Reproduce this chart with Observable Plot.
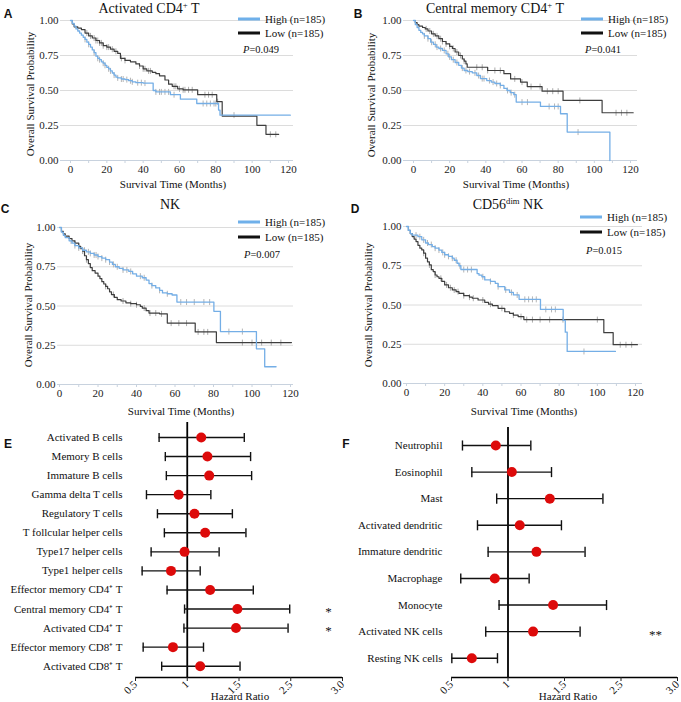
<!DOCTYPE html>
<html><head><meta charset="utf-8">
<script src="https://cdn.jsdelivr.net/npm/d3@7"></script>
<script src="https://cdn.jsdelivr.net/npm/@observablehq/plot@0.6"></script>
<style>
body{margin:0;background:#fff;}
#root{position:relative;width:681px;height:702px;overflow:hidden;background:#fff;font-family:"Liberation Serif","Times New Roman",serif;color:#111;}
.abs{position:absolute;white-space:nowrap;line-height:1;}
.c{transform:translate(-50%,-50%);}
.lv{transform:translate(0,-50%);}
.plot{position:absolute;}
.plot svg{overflow:visible;display:block;}
.letter{font-family:"Liberation Sans",Arial,sans-serif;font-weight:bold;font-size:12px;}
.title{font-size:14px;}
.axl{font-size:11px;}
.rot{transform:translate(-50%,-50%) rotate(-90deg);}
.leg{font-size:11px;display:flex;align-items:center;}
.leg .ln{display:inline-block;width:22px;height:3px;margin-right:5px;}
.pv{font-size:10.5px;}
sup{font-size:0.62em;vertical-align:0.55em;line-height:0;}
</style></head>
<body><div id="root"></div>
<script>
// ---------- Data: Kaplan-Meier step curves (months, survival) ----------
const aHighT = [0,1,2,3,4,5,6,7,8,9,10,11,12,13,14,15,16,17,18,19,20,21,22,23,24,25,26,28,30,32,34,36,40,45.5,47,55,60.5,69.5,81.5,82.3,121];
const aHighS = [1,0.98,0.96,0.94,0.925,0.91,0.895,0.88,0.865,0.845,0.83,0.81,0.79,0.77,0.745,0.73,0.72,0.705,0.695,0.68,0.665,0.655,0.64,0.625,0.61,0.595,0.59,0.582,0.578,0.57,0.562,0.556,0.553,0.50,0.49,0.47,0.438,0.407,0.36,0.324,0.324];
const aHighC = [8,10,13,15,16,18,19,21,22,24,26,28,29,31,33,34,37,39,41,47,49,50,52,54,57,73,75,77,79,80,90];
const aLowT = [0,1,2,4,6,8,10,12,14,16,18,20,22,24,26,27.5,30,33,36,38,40,42,45,47,49,52,54,56,59,62,70,80.5,83.5,102.6,107.6,114.6];
const aLowS = [1,0.975,0.955,0.945,0.935,0.91,0.89,0.875,0.857,0.84,0.82,0.81,0.795,0.78,0.765,0.73,0.715,0.705,0.69,0.675,0.655,0.64,0.63,0.62,0.605,0.575,0.545,0.53,0.512,0.505,0.47,0.42,0.317,0.251,0.187,0.187];
const aLowC = [9,11,13,14,15,16,17,18,20,21,23,25,28,30,38,40,41,43,44,57,58,60,62,63,65,67,74,76,78,81,110,113];

const bHighT = [0,1,2,3,4,5,6,8,9.5,11,12.5,14,16,18,19.5,21,23,25,26.5,28,30,32.5,35,37,40.5,43,45,48,50,51.7,53.5,55.5,56.8,70.2,81.3,85,108.6];
const bHighS = [1,0.97,0.95,0.93,0.915,0.905,0.89,0.87,0.845,0.83,0.81,0.8,0.786,0.762,0.74,0.72,0.70,0.68,0.66,0.643,0.635,0.626,0.607,0.585,0.571,0.56,0.55,0.536,0.515,0.5,0.485,0.47,0.417,0.386,0.334,0.203,0.0];
const bHighC = [6,8,10,12,13,15,17,19,20,22,24,27,29,31,34,36,38,39,42,44,46,48,52,54,56,60,63,75,78,80,91];
const bLowT = [0,1,2,3,5,6.5,8,10,12,14,16,18,20,21.5,23,25,27,28,29,29.7,41,50,53.7,59.2,62.9,71.1,82.7,104.3,121.5];
const bLowS = [1,0.985,0.97,0.96,0.95,0.94,0.925,0.905,0.89,0.87,0.85,0.833,0.815,0.8,0.775,0.75,0.725,0.71,0.69,0.666,0.643,0.62,0.583,0.56,0.528,0.495,0.429,0.341,0.341];
const bLowC = [7,9,11,13,15,16,18,20,22,24,26,28,35,38,41,45,48,56,60,65,70,74,77,80,92,112,115,118];

const cHighT = [0,1,2,3,5,6.5,8,10,12,14,16,18,20,22,24,26,27.5,29,31,33,36,38,40,43,45,46.5,48,50,52,53.5,56,58.5,61,80.2,83.6,102.3,106.6,112.5];
const cHighS = [1,0.97,0.95,0.935,0.915,0.9,0.885,0.87,0.855,0.845,0.835,0.825,0.815,0.805,0.795,0.78,0.765,0.75,0.74,0.73,0.72,0.705,0.69,0.68,0.665,0.643,0.63,0.615,0.6,0.583,0.578,0.57,0.525,0.466,0.337,0.227,0.113,0.113];
const cHighC = [6,8,10,12,13,15,16,18,19,20,22,24,26,28,30,33,35,37,42,44,48,52,56,63,66,70,75,78,88,95];
const cLowT = [0,1,2,3,5,6.5,8,10,11,12,13,14,15,16,17,18.5,20,21,22,23,24,25,26,27,28.5,30,32,34.5,37,40,42,43,45,46.5,52,56,70.5,81.5,120.5];
const cLowS = [1,0.975,0.96,0.945,0.93,0.915,0.9,0.88,0.865,0.85,0.82,0.795,0.77,0.745,0.725,0.71,0.69,0.675,0.655,0.64,0.625,0.61,0.59,0.573,0.555,0.54,0.532,0.52,0.515,0.508,0.497,0.487,0.47,0.455,0.45,0.391,0.335,0.267,0.267];
const cLowC = [8,10,12,14,24,28,33,37,40,44,47,50,53,58,62,66,72,75,77,95,100,105,110,115];

const dHighT = [0,1,2,3,6,8,10,11.5,13.5,15,17,18.5,20,22,24,25,26.5,27.5,28.5,37,38,39.5,41,44,46.5,48,51.5,54,56,59,70.2,82.1,83.2,84.2,109.5];
const dHighS = [1,0.975,0.955,0.945,0.935,0.915,0.895,0.885,0.872,0.862,0.85,0.835,0.82,0.81,0.798,0.785,0.766,0.75,0.726,0.70,0.69,0.68,0.66,0.65,0.638,0.617,0.596,0.58,0.564,0.536,0.472,0.402,0.327,0.204,0.204];
const dHighC = [5,7,9,11,13,15,17,19,20,22,24,26,28,30,32,34,40,44,48,52,55,58,62,64,66,68,73,76,78,93];
const dLowT = [0,1,2,3,4,5,6,7,8,9,10,11,12,13,14,15,16,17,18.5,20,22,24,26,27.5,30,33,34.5,37.5,41,43,45,48,51.5,54,56,58.5,61.5,103.4,108.3,121];
const dLowS = [1,0.975,0.955,0.936,0.92,0.904,0.88,0.862,0.851,0.83,0.798,0.775,0.755,0.725,0.713,0.691,0.68,0.67,0.65,0.628,0.61,0.596,0.585,0.574,0.56,0.55,0.543,0.532,0.517,0.505,0.496,0.479,0.457,0.447,0.436,0.426,0.407,0.324,0.247,0.247];
const dLowC = [9,12,15,18,21,23,25,27,30,33,35,40,44,50,56,60,63,66,70,75,82,100,112,115,118];

const kmXTicks = [0,10,20,30,40,50,60,70,80,90,100,110,120];
const kmXLabels = [0,20,40,60,80,100,120];
const kmYTicks = [0,0.25,0.5,0.75,1];

// ---------- Data: forest plots ----------
const eNames = ["Activated B cells","Memory B cells","Immature B cells","Gamma delta T cells","Regulatory T cells","T follcular helper cells","Type17 helper cells","Type1 helper cells","Effector memory CD4\u207A T","Central memory CD4\u207A T","Activated CD4\u207A T","Effector memory CD8\u207A T","Activated CD8\u207A T"];
const eHR = [1.135,1.195,1.212,0.917,1.07,1.173,0.974,0.843,1.221,1.484,1.471,0.862,1.125];
const eLo = [0.728,0.788,0.798,0.606,0.712,0.779,0.651,0.564,0.805,0.974,0.968,0.574,0.753];
const eHi = [1.551,1.612,1.622,1.228,1.436,1.567,1.308,1.125,1.638,1.99,1.974,1.157,1.51];
const eSig = ["","","","","","","","","","*","*","",""];

const fNames = ["Neutrophil","Eosinophil","Mast","Activated dendritic","Immature dendritic","Macrophage","Monocyte","Activated NK cells","Resting NK cells"];
const fHR = [0.892,1.034,1.37,1.104,1.252,0.883,1.399,1.222,0.68];
const fLo = [0.597,0.68,0.90,0.73,0.824,0.582,0.921,0.803,0.503];
const fHi = [1.202,1.385,1.84,1.473,1.682,1.187,1.872,1.638,0.907];
const fSig = ["","","","","","","","**",""];

const hrTicks = [0.5,1,1.5,2,2.5];
const hrTickLabels = ["0.5","1","1.5","2.5","3.0"];

// ---------- helpers ----------
const root = document.getElementById("root");
const baseStyle = {fontFamily:'"Liberation Serif","Times New Roman",serif', fontSize:"11px", background:"none", color:"#222", overflow:"visible"};
const vbar = { draw(ctx, size) { const h = Math.sqrt(size / Math.PI); ctx.moveTo(0, -h); ctx.lineTo(0, h); } };
const stepData = (T, S) => T.map((t, i) => ({t, s: S[i]}));
const survAt = (T, S, c) => { let v = S[0]; for (let i = 0; i < T.length; i++) if (T[i] <= c) v = S[i]; return v; };
const censData = (T, S, C) => C.filter(c => c <= T[T.length - 1]).map(c => ({t: c, s: survAt(T, S, c)}));

function place(node, left, top) {
  const d = document.createElement("div");
  d.className = "plot"; d.style.left = left + "px"; d.style.top = top + "px";
  d.appendChild(node); root.appendChild(d);
}
function html(str, cls, left, top) {
  const d = document.createElement("div");
  d.className = "abs " + cls; d.style.left = left + "px"; d.style.top = top + "px";
  d.innerHTML = str; root.appendChild(d);
}

function km(L, hiT, hiS, hiC, loT, loS, loC) {
  return Plot.plot({
    width: L.w, height: L.h, marginLeft: L.ml, marginRight: L.mr, marginTop: L.mt, marginBottom: L.mb,
    style: baseStyle,
    x: {domain: [0, 120], insetLeft: L.il, insetRight: L.ir},
    y: {domain: [0, 1]},
    marks: [
      Plot.gridY(kmYTicks.slice(1), {stroke: "#dcdcdc", strokeOpacity: 1}),
      Plot.ruleY([0], {stroke: "#c8d2de"}),
      Plot.axisY(kmYTicks, {tickSize: 0, tickPadding: 2, tickFormat: d => d.toFixed(2), label: null}),
      Plot.axisX(kmXTicks, {tickSize: 3, stroke: "#c8d2de", fill: "none", tickFormat: () => "", label: null}),
      Plot.axisX(kmXLabels, {tickSize: 0, tickPadding: 5, tickFormat: d => String(d), label: null}),
      Plot.dot(censData(loT, loS, loC), {x: "t", y: "s", symbol: vbar, r: 3, stroke: "#ababab", fill: "none", strokeWidth: 1}),
      Plot.dot(censData(hiT, hiS, hiC), {x: "t", y: "s", symbol: vbar, r: 3, stroke: "#b4b4b4", fill: "none", strokeWidth: 1}),
      Plot.line(stepData(loT, loS), {x: "t", y: "s", curve: "step-after", stroke: "#3e3e3e", strokeWidth: 1.2}),
      Plot.line(stepData(hiT, hiS), {x: "t", y: "s", curve: "step-after", stroke: "#74aee6", strokeWidth: 1.3})
    ]
  });
}

function forest(L, names, hr, lo, hi, sig) {
  const rows = names.map((name, i) => ({i, name, hr: hr[i], lo: lo[i], hi: hi[i], sig: sig[i]}));
  const yMax = names.length - 1 + L.padBottom;
  return Plot.plot({
    width: L.w, height: L.h, marginLeft: L.ml, marginRight: L.mr, marginTop: L.mt, marginBottom: L.mb,
    style: baseStyle,
    x: {domain: [0.5, 2.5]},
    y: {domain: [-L.padTop, yMax], reverse: true},
    marks: [
      Plot.ruleY([yMax], {stroke: "#000", strokeWidth: 1.5}),
      Plot.ruleX([1], {stroke: "#000", strokeWidth: 1.8}),
      Plot.ruleY(rows, {y: "i", x1: "lo", x2: "hi", stroke: "#111", strokeWidth: 1.4}),
      Plot.link(rows, {x1: "lo", x2: "lo", y1: d => d.i - L.cap, y2: d => d.i + L.cap, stroke: "#111", strokeWidth: 1.4}),
      Plot.link(rows, {x1: "hi", x2: "hi", y1: d => d.i - L.cap, y2: d => d.i + L.cap, stroke: "#111", strokeWidth: 1.4}),
      Plot.dot(rows, {x: "hr", y: "i", r: 5, fill: "#dd0a0a"}),
      Plot.text(rows.filter(d => d.sig), {y: "i", text: "sig", frameAnchor: "right", dx: L.sdx, dy: 3, textAnchor: "middle", fontSize: 13, fill: "#111"}),
      Plot.axisY(rows.map(d => d.i), {tickSize: 0, tickPadding: L.tp, tickFormat: i => names[i], label: null, fill: "#111"}),
      Plot.axisX(hrTicks, {tickSize: 4, tickPadding: 1, tickRotate: -45, tickFormat: d => hrTickLabels[hrTicks.indexOf(d)], label: null, fill: "#111"})
    ]
  });
}

// ---------- KM panels ----------
place(km({w: 340, h: 190, ml: 60, mr: 47, mt: 20, mb: 30, il: 10, ir: 5}, aHighT, aHighS, aHighC, aLowT, aLowS, aLowC), 0, 0);
place(km({w: 341, h: 190, ml: 63, mr: 44, mt: 20, mb: 30, il: 10, ir: 7}, bHighT, bHighS, bHighC, bLowT, bLowS, bLowC), 340, 0);
place(km({w: 340, h: 220, ml: 57, mr: 47, mt: 37, mb: 26, il: 2, ir: 3}, cHighT, cHighS, cHighC, cLowT, cLowS, cLowC), 0, 190);
place(km({w: 341, h: 220, ml: 63, mr: 39, mt: 36, mb: 27, il: 3, ir: 7}, dHighT, dHighS, dHighC, dLowT, dLowS, dLowC), 340, 190);

// ---------- forest panels ----------
place(forest({w: 346, h: 287, ml: 135, mr: 4, mt: 7, mb: 25, padTop: 0.787, padBottom: 0.593, cap: 0.24, tp: 13, sdx: -14}, eNames, eHR, eLo, eHi, eSig), 0, 415);
place(forest({w: 341, h: 287, ml: 111, mr: 4, mt: 12, mb: 25, padTop: 0.677, padBottom: 0.726, cap: 0.19, tp: 9, sdx: -22}, fNames, fHR, fLo, fHi, fSig), 340, 415);

// ---------- text: letters, titles, axis labels, legends ----------
html("A", "letter c", 8, 14);
html("B", "letter c", 358, 14);
html("C", "letter c", 5, 209);
html("D", "letter c", 355, 209);
html("E", "letter c", 8, 444);
html("F", "letter c", 346, 444);

html("Activated CD4<sup>+</sup> T", "title c", 149, 8.5);
html("Central memory CD4<sup>+</sup> T", "title c", 495, 8.5);
html("NK", "title c", 170, 205);
html("CD56<sup>dim</sup> NK", "title c", 508, 205);

html("Overall Survival Probability", "axl rot", 30, 94);
html("Overall Survival Probability", "axl rot", 371, 95);
html("Overall Survival Probability", "axl rot", 28, 305);
html("Overall Survival Probability", "axl rot", 368, 305);
html("Survival Time (Months)", "axl c", 173, 184);
html("Survival Time (Months)", "axl c", 516, 184);
html("Survival Time (Months)", "axl c", 181, 411);
html("Survival Time (Months)", "axl c", 524, 411);
html("Hazard Ratio", "axl c", 240, 696);
html("Hazard Ratio", "axl c", 568, 696);

function legend(x, yHigh, yLow) {
  html('<span class="ln" style="background:#6fb0ea"></span>High (n=185)', "leg lv", x, yHigh);
  html('<span class="ln" style="background:#111"></span>Low (n=185)', "leg lv", x, yLow);
}
legend(238, 19, 33);
legend(581, 19, 33);
legend(238, 222, 237);
legend(580, 217, 232);
html("<i>P</i>=0.049", "pv c", 261, 50);
html("<i>P</i>=0.041", "pv c", 603, 50);
html("<i>P</i>=0.007", "pv c", 262, 255);
html("<i>P</i>=0.015", "pv c", 604, 251);
</script></body></html>
